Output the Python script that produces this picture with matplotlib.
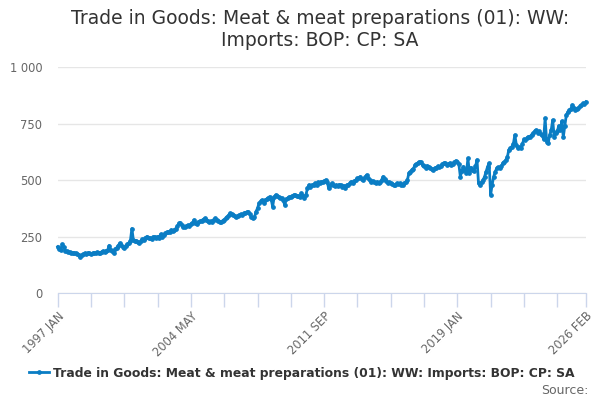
import matplotlib
matplotlib.use("Agg")
import matplotlib.pyplot as plt
import pandas as pd
from matplotlib.ticker import FuncFormatter, FixedLocator

# ---- data (£ million) ----
y1997 = [205, 195, 190, 215, 205, 188, 185, 182, 180, 178, 178, 175]
y1998 = [175, 172, 170, 160, 168, 172, 175, 172, 178, 175, 173, 176]
y1999 = [178, 175, 180, 176, 178, 182, 185, 183, 188, 190, 210, 192]
y2000 = [185, 175, 195, 200, 210, 220, 212, 205, 198, 210, 215, 220]
y2001 = [230, 285, 235, 228, 232, 225, 222, 230, 238, 235, 245, 250]
y2002 = [245, 242, 238, 248, 249, 245, 250, 245, 260, 248, 255, 264]
y2003 = [268, 270, 272, 279, 275, 280, 285, 295, 308, 310, 300, 290]
y2004 = [293, 295, 300, 298, 305, 308, 323, 310, 305, 312, 318, 320]
y2005 = [325, 330, 322, 318, 315, 318, 315, 325, 330, 322, 318, 315]
y2006 = [315, 320, 325, 330, 338, 345, 353, 348, 345, 340, 338, 342]
y2007 = [345, 348, 345, 352, 355, 358, 360, 350, 338, 330, 335, 360]
y2008 = [375, 397, 405, 411, 400, 410, 415, 420, 426, 415, 382, 425]
y2009 = [434, 430, 425, 420, 419, 410, 389, 415, 420, 425, 426, 430]
y2010 = [434, 432, 430, 428, 425, 441, 430, 419, 435, 463, 478, 470]
y2011 = [478, 480, 485, 478, 490, 485, 493, 490, 495, 500, 493, 463]
y2012 = [478, 485, 480, 475, 478, 472, 480, 478, 470, 475, 463, 478]
y2013 = [480, 485, 493, 488, 495, 500, 507, 510, 515, 505, 500, 512]
y2014 = [522, 510, 498, 493, 495, 490, 488, 492, 485, 490, 500, 515]
y2015 = [505, 495, 485, 490, 485, 483, 480, 478, 485, 482, 485, 478]
y2016 = [480, 485, 490, 500, 530, 537, 545, 550, 566, 570, 575, 581]
y2017 = [581, 565, 560, 555, 563, 558, 552, 548, 545, 552, 555, 560]
y2018 = [559, 560, 570, 575, 574, 568, 570, 575, 566, 572, 578, 585]
y2019 = [581, 570, 515, 540, 559, 545, 530, 596, 530, 555, 545, 540]
y2020 = [560, 589, 485, 476, 490, 500, 515, 537, 559, 574, 434, 480]
y2021 = [515, 535, 552, 556, 552, 560, 574, 580, 588, 600, 633, 640]
y2022 = [647, 660, 699, 655, 640, 645, 640, 660, 680, 675, 685, 692]
y2023 = [692, 700, 707, 715, 721, 710, 715, 705, 700, 680, 773, 670]
y2024 = [662, 700, 720, 765, 690, 710, 715, 740, 720, 760, 690, 740]
y2025 = [788, 800, 810, 815, 832, 820, 810, 815, 820, 826, 830, 839]
y2026 = [835, 846]

values = (y1997 + y1998 + y1999 + y2000 + y2001 + y2002 + y2003 + y2004 +
          y2005 + y2006 + y2007 + y2008 + y2009 + y2010 + y2011 + y2012 +
          y2013 + y2014 + y2015 + y2016 + y2017 + y2018 + y2019 + y2020 +
          y2021 + y2022 + y2023 + y2024 + y2025 + y2026)

months = [p.strftime("%Y %b").upper() for p in pd.period_range("1997-01", "2026-02", freq="M")]
tick_labels = ["1997 JAN", "2004 MAY", "2011 SEP", "2019 JAN", "2026 FEB"]
series_name = "Trade in Goods: Meat & meat preparations (01): WW: Imports: BOP: CP: SA"
title = "Trade in Goods: Meat & meat preparations (01): WW:\nImports: BOP: CP: SA"

# ---- figure ----
plt.rcParams["font.family"] = ["DejaVu Sans"]
fig = plt.figure(figsize=(6, 4), dpi=100)
ax = fig.add_axes([57.7 / 600, 1 - 293 / 400, (586 - 57.7) / 600, (293 - 67) / 400])

x = list(range(len(values)))
line_color = "#0a7dc4"
ax.plot(x, values, color=line_color, lw=2, marker="o", ms=2.4, mec=line_color,
        mfc=line_color, label=series_name, zorder=3, clip_on=False)

ax.set_xlim(0, len(values) - 1)
ax.set_ylim(0, 1000)
ax.set_yticks([0, 250, 500, 750, 1000])
ax.yaxis.set_major_formatter(FuncFormatter(lambda v, p: f"{int(v):,}".replace(",", " ")))
ax.grid(axis="y", color="#e6e6e6", lw=1)
ax.set_axisbelow(True)

major = [months.index(t) for t in tick_labels]
minor = list(range(0, len(values), 22)) + [len(values) - 1]
ax.xaxis.set_major_locator(FixedLocator(major))
ax.xaxis.set_minor_locator(FixedLocator(minor))
ax.set_xticklabels(tick_labels, rotation=45, ha="right", rotation_mode="anchor",
                   color="#666666", fontsize=8.3)
ax.tick_params(axis="x", which="both", length=10, width=1, color="#ccd6eb", pad=2)
ax.tick_params(axis="y", length=0, labelcolor="#666666", labelsize=8.3, pad=11)

for s in ["top", "right", "left"]:
    ax.spines[s].set_visible(False)
ax.spines["bottom"].set_color("#ccd6eb")

fig.text(320 / 600, 1 - 30 / 400, title, ha="center", va="center",
         fontsize=13.5, color="#333333", linespacing=1.2)

fig.legend(loc="center", bbox_to_anchor=(0.503, 1 - 373 / 400), frameon=False,
           handlelength=1.6, handletextpad=0.3,
           prop={"weight": "bold", "size": 8.9}, labelcolor="#333333")
fig.text(588 / 600, 1 - 390 / 400, "Source:", ha="right", va="center",
         fontsize=9, color="#666666")

fig.savefig("out.png", dpi=100)
